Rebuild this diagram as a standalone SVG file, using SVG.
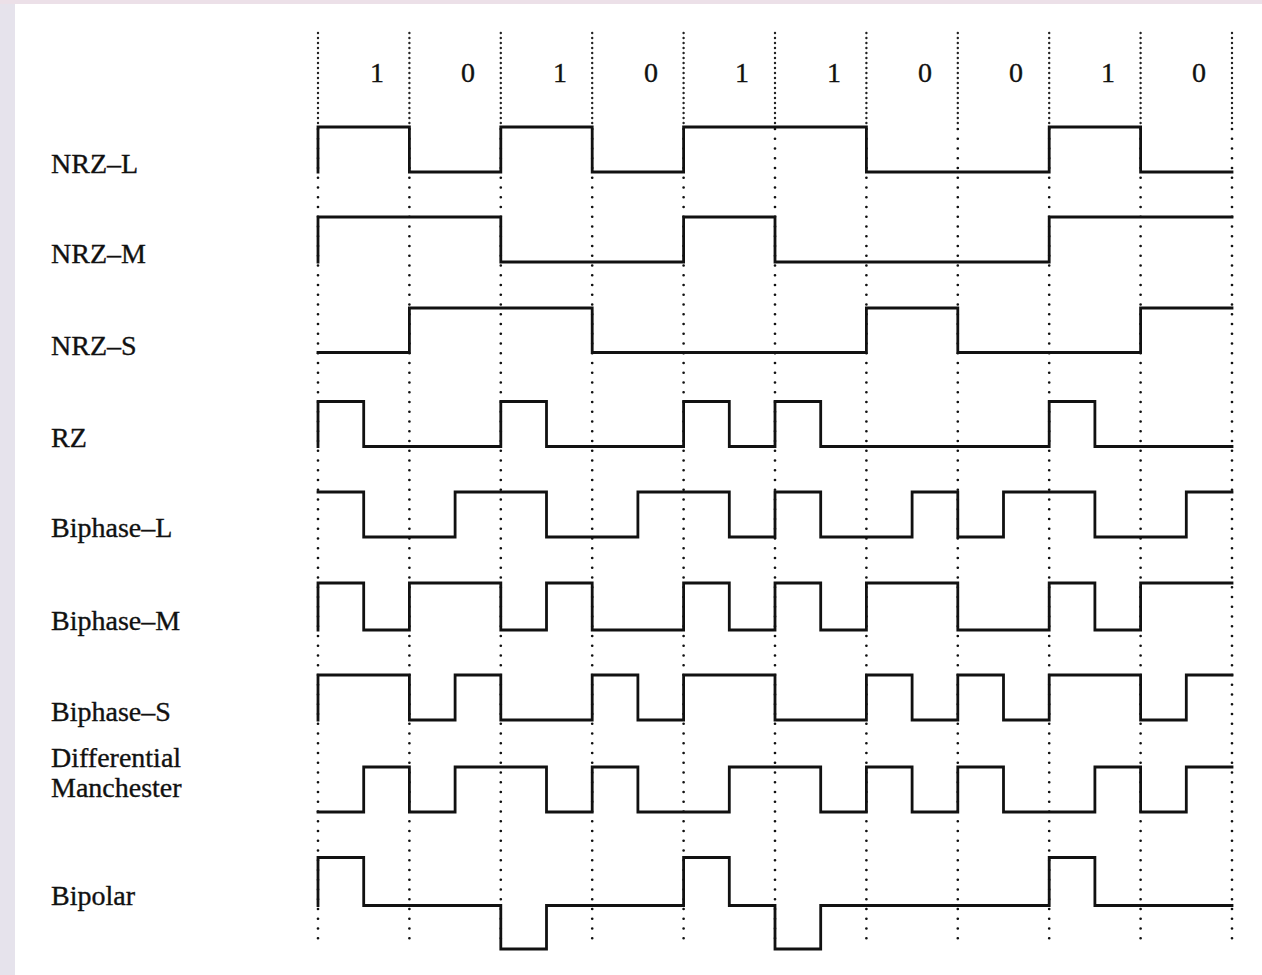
<svg xmlns="http://www.w3.org/2000/svg" width="1262" height="975" viewBox="0 0 1262 975">
<style>
.lbl{font-family:"Liberation Serif","Times New Roman",serif;font-size:28px;fill:#111;stroke:#111;stroke-width:0.35}
.bit{font-family:"Liberation Serif","Times New Roman",serif;font-size:28px;fill:#111;stroke:#111;stroke-width:0.35;text-anchor:middle}
.sig{fill:none;stroke:#111;stroke-width:2.8;stroke-linejoin:miter;stroke-linecap:square}
.dotA{fill:none;stroke:#222;stroke-width:2.4;stroke-linecap:round;stroke-dasharray:0 5}
.dotB{fill:none;stroke:#111;stroke-width:2.7;stroke-linecap:round;stroke-dasharray:0 9.75}
</style>
<rect x="0" y="0" width="1262" height="975" fill="#e6e3ec"/>
<rect x="0" y="0" width="1262" height="4" fill="#ece0e8"/>
<rect x="15" y="4" width="1247" height="971" fill="#ffffff"/>
<g id="gridlines">
<path class="dotA" d="M318,33V124M409.4,33V124M500.8,33V124M592.2,33V124M683.6,33V124M775,33V124M866.4,33V124M957.8,33V124M1049.2,33V124M1140.6,33V124M1232,33V124"/>
<path class="dotB" d="M318,129V947M409.4,129V947M500.8,129V947M592.2,129V947M683.6,129V947M775,129V947M866.4,129V947M957.8,129V947M1049.2,129V947M1140.6,129V947M1232,129V947"/>
</g>
<g id="bits">
<text class="bit" x="377" y="82">1</text>
<text class="bit" x="468" y="82">0</text>
<text class="bit" x="560" y="82">1</text>
<text class="bit" x="651" y="82">0</text>
<text class="bit" x="742" y="82">1</text>
<text class="bit" x="834" y="82">1</text>
<text class="bit" x="925" y="82">0</text>
<text class="bit" x="1016" y="82">0</text>
<text class="bit" x="1108" y="82">1</text>
<text class="bit" x="1199" y="82">0</text>
</g>
<g id="nrz-l">
<text class="lbl" x="51" y="173">NRZ–L</text>
<path class="sig" d="M318,172V127H409.4V172H500.8V127H592.2V172H683.6V127H866.4V172H1049.2V127H1140.6V172H1232"/>
</g>
<g id="nrz-m">
<text class="lbl" x="51" y="263">NRZ–M</text>
<path class="sig" d="M318,262V217H500.8V262H683.6V217H775V262H1049.2V217H1232"/>
</g>
<g id="nrz-s">
<text class="lbl" x="51" y="355">NRZ–S</text>
<path class="sig" d="M318,352.5H409.4V308H592.2V352.5H866.4V308H957.8V352.5H1140.6V308H1232"/>
</g>
<g id="rz">
<text class="lbl" x="51" y="447">RZ</text>
<path class="sig" d="M318,446.5V401.5H363.7V446.5H500.8V401.5H546.5V446.5H683.6V401.5H729.3V446.5H775V401.5H820.7V446.5H1049.2V401.5H1094.9V446.5H1232"/>
</g>
<g id="biphase-l">
<text class="lbl" x="51" y="537">Biphase–L</text>
<path class="sig" d="M318,492H363.7V537H455.1V492H546.5V537H637.9V492H729.3V537H775V492H820.7V537H912.1V492H957.8V537H1003.5V492H1094.9V537H1186.3V492H1232"/>
</g>
<g id="biphase-m">
<text class="lbl" x="51" y="630">Biphase–M</text>
<path class="sig" d="M318,630V583H363.7V630H409.4V583H500.8V630H546.5V583H592.2V630H683.6V583H729.3V630H775V583H820.7V630H866.4V583H957.8V630H1049.2V583H1094.9V630H1140.6V583H1232"/>
</g>
<g id="biphase-s">
<text class="lbl" x="51" y="721">Biphase–S</text>
<path class="sig" d="M318,720V675H409.4V720H455.1V675H500.8V720H592.2V675H637.9V720H683.6V675H775V720H866.4V675H912.1V720H957.8V675H1003.5V720H1049.2V675H1140.6V720H1186.3V675H1232"/>
</g>
<g id="differential-manchester">
<text class="lbl" x="51" y="767">Differential</text>
<text class="lbl" x="51" y="797">Manchester</text>
<path class="sig" d="M318,812H363.7V767H409.4V812H455.1V767H546.5V812H592.2V767H637.9V812H729.3V767H820.7V812H866.4V767H912.1V812H957.8V767H1003.5V812H1094.9V767H1140.6V812H1186.3V767H1232"/>
</g>
<g id="bipolar">
<text class="lbl" x="51" y="905">Bipolar</text>
<path class="sig" d="M318,905.5V857.5H363.7V905.5H500.8V949H546.5V905.5H683.6V857.5H729.3V905.5H775V949H820.7V905.5H1049.2V857.5H1094.9V905.5H1232"/>
</g>
</svg>
